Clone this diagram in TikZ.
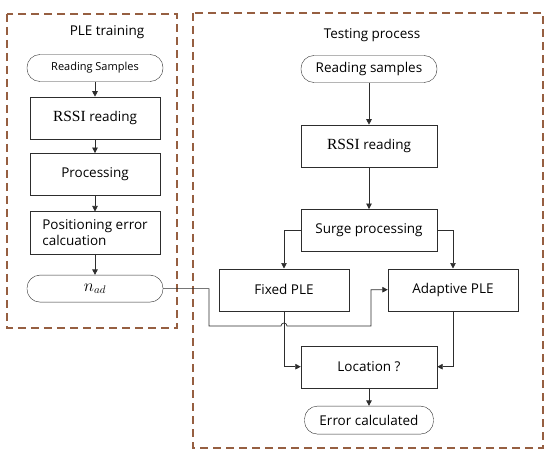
\documentclass[tikz,border=0pt]{standalone}
\usepackage{fontspec}
\setmainfont{Open Sans}
\newfontfamily\rssifont{Liberation Serif}
\usetikzlibrary{arrows.meta, positioning, calc}
\definecolor{cFrame}{RGB}{150,95,65}
\definecolor{cLine}{RGB}{45,45,45}
\tikzset{
	term/.style ={rectangle, rounded corners=13pt, minimum width=136pt, minimum height=27pt, align=center, draw=cLine, inner sep=2pt},
	proc/.style ={rectangle, minimum width=130pt, minimum height=42pt, align=center, draw=cLine, inner sep=2pt},
	flow/.style ={-{Triangle[length=5.5pt, width=5.5pt]}, draw=cLine, line width=0.7pt},
	group/.style={draw=cFrame, line width=1.6pt, dash pattern=on 8pt off 5pt},
}
\newcommand{\rssi}{{\fontsize{15.5}{17}\rssifont RSSI} reading}

\begin{document}
\begin{tikzpicture}[x=1pt, y=-1pt, every node/.style={font=\fontsize{13.5}{16}\selectfont}]
	\useasboundingbox (0,0) rectangle (550,460);
	% frames
	\draw[group] (7,14) rectangle (177,328);
	\draw[group] (193,13) rectangle (543,448);
	\node (ttrain) at (107,32) {PLE training};
	\node (ttest) at (372,35) {Testing process};
	% PLE training
	\node[term, font=\fontsize{11}{12}\selectfont] (rs1) at (95,68) {Reading Samples};
	\node[proc, below=15pt of rs1] (rssi1) {\rssi};
	\node[proc, below=14pt of rssi1] (prc1) {Processing};
	\node[proc, below=16pt of prc1, align=left] (pos1) {Positioning error\\calcuation};
	\node[term, below=21pt of pos1, font=\fontsize{16}{18}\selectfont] (nad) {$n_{ad}$};
	% testing process
	\node[term] (rs2) at (369,69) {Reading samples};
	\node[proc, minimum width=136pt, below=42pt of rs2] (rssi2) {\rssi};
	\node[proc, minimum width=136pt, below=42pt of rssi2] (surge) {Surge processing};
	\node[proc, below=17pt of surge, xshift=-85pt] (fix) {Fixed PLE};
	\node[proc, below=17pt of surge, xshift=84pt] (ada) {Adaptive PLE};
	\node[proc, minimum width=136pt, below=94pt of surge] (loc) {Location ?};
	\node[term, minimum width=129pt, minimum height=28pt, below=18pt of loc] (err) {Error calculated};
	\coordinate (jogA) at (209,326);
	\coordinate (jogB) at (371,326);
	% connectors
	\draw[flow] (rs1) -- (rssi1);
	\draw[flow] (rssi1) -- (prc1);
	\draw[flow] (prc1) -- (pos1);
	\draw[flow] (pos1) -- (nad);
	\draw[flow] (rs2) -- (rssi2);
	\draw[flow] (rssi2) -- (surge);
	\draw[flow] (surge.west) -| (fix.north);
	\draw[flow] (surge.east) -| (ada.north);
	\draw[flow] (fix.south) |- (loc.west);
	\draw[flow] (ada.south) |- (loc.east);
	\draw[flow] (loc) -- (err);
	\draw[flow] (nad.east) -| (jogA) -- ($(fix.south |- jogA)+(-3,0)$) arc[start angle=180, end angle=0, radius=3pt] -- (jogB) |- (ada.west);
\end{tikzpicture}
\end{document}
